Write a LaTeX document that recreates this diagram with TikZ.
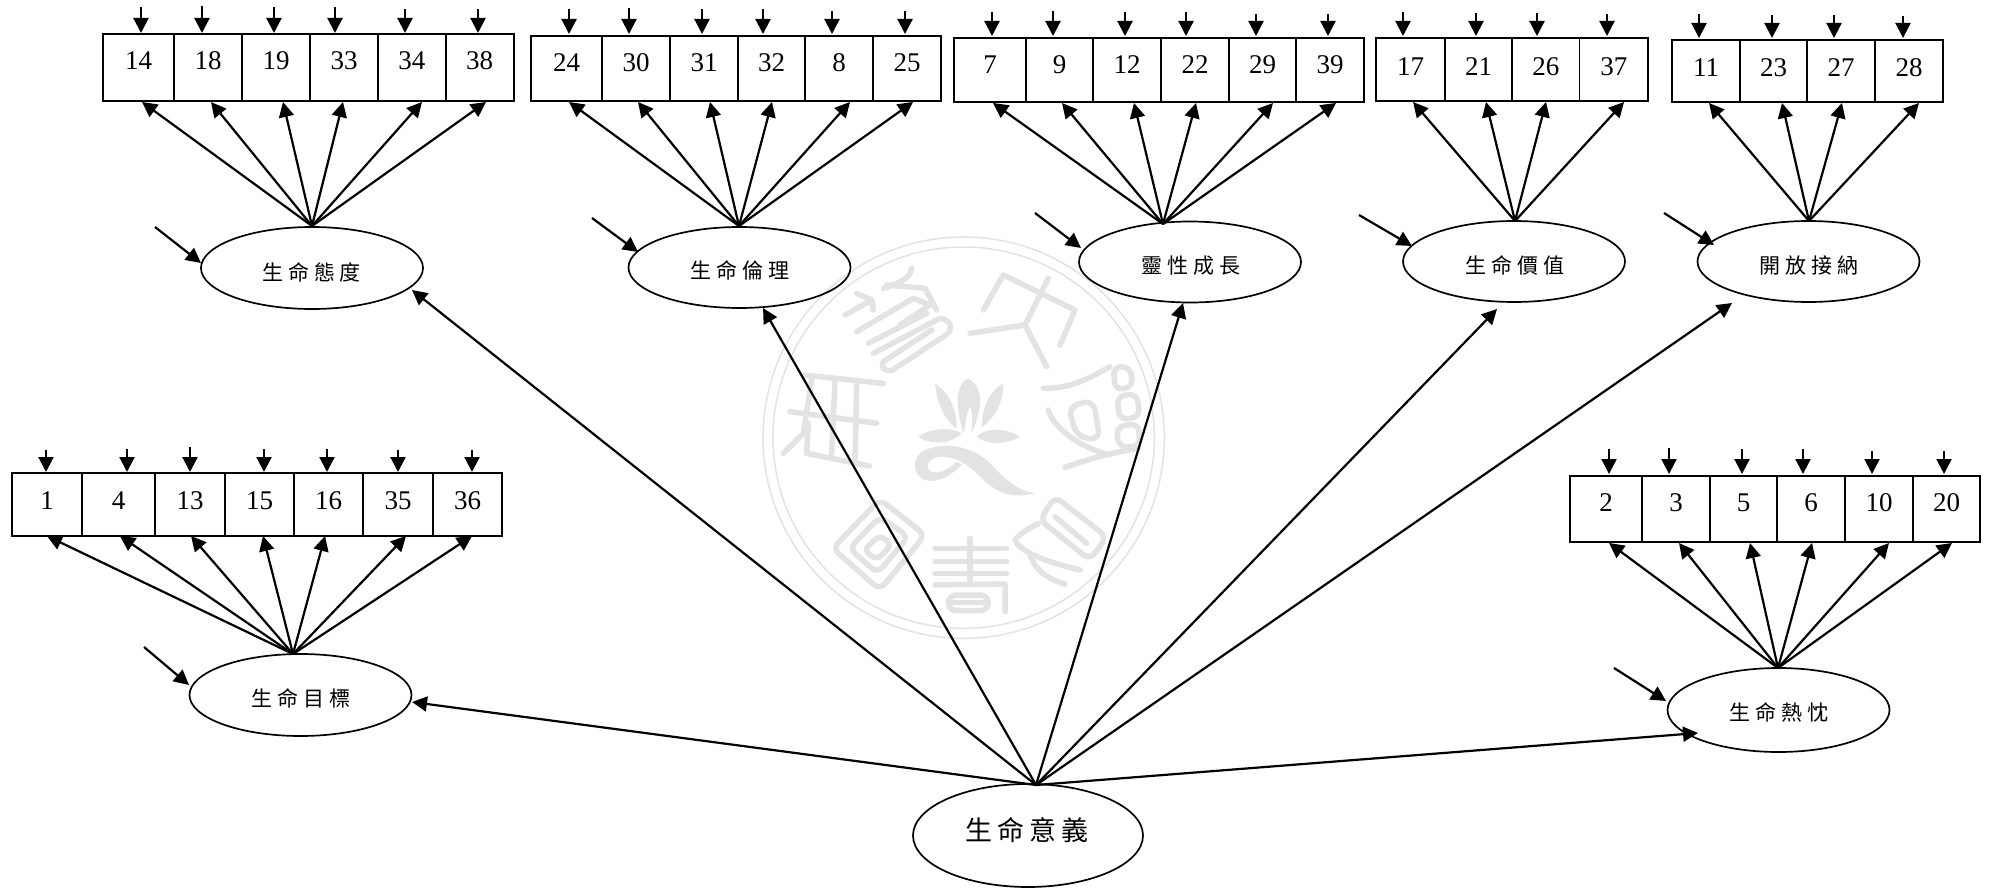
\documentclass[tikz,border=0pt]{standalone}
\usepackage{fontspec}
\usetikzlibrary{arrows.meta,shapes.geometric}
\setmainfont{Liberation Serif}
\newfontfamily\cjk{Noto Sans CJK TC}
\newcommand{\fourch}[5]{{\cjk #1\kern#5 #2\kern#5 #3\kern#5 #4}}
\definecolor{wm}{HTML}{E3E3E3}
\tikzset{
  cell/.style={draw=black,line width=1.8pt,rectangle,inner sep=0pt,outer sep=0pt},
  numtxt/.style={inner sep=0pt,font=\fontsize{27}{27}\selectfont},
  arr/.style={line width=2.2pt,-{Triangle[length=15pt,width=15pt]},shorten >=0pt},
  latent/.style={draw=black,line width=1.7pt,ellipse,inner sep=0pt,outer sep=0pt},
  latxt/.style={inner sep=0pt,font=\fontsize{21}{21}\selectfont},
  seal/.style={draw=wm,line width=5.5pt,line cap=round,line join=round},
  ring/.style={draw=wm,line width=1.5pt},
  petal/.style={fill=wm,draw=none}
}
% name, ytop, ybot, ytext, ytip, ytopend, list i/xa/xb/label/topx/topy/tipx
\newcommand{\grp}[7]{%
  \foreach \i/\xa/\xb/\lab/\tx/\ty/\fx in {#7}{%
    \node[cell,minimum width={(\xb-\xa)*1pt},minimum height={(#3-#2)*1pt}] (#1c\i) at ({(\xa+\xb)/2},{(#2+#3)/2}) {};
    \node[numtxt] (#1t\i) at ({(\xa+\xb)/2},#4) {\lab};
    \coordinate (#1a\i) at (\tx,\ty);
    \coordinate (#1b\i) at (\tx,#6);
    \draw[arr] (#1a\i) -- (#1b\i);
    \coordinate (#1f\i) at (\fx,#5);
    \draw[arr] (#1s) -- (#1f\i);
  }%
}
\begin{document}
\begin{tikzpicture}[x=1pt,y=-1pt]
\useasboundingbox (0,0) rectangle (1993,888);
\fill[white] (0,0) rectangle (1993,888);
% watermark
\begin{scope}[shift={(740,220)},x=0.33333pt,y=-0.33333pt]
  \draw[ring] (671,653) circle [x radius=602,y radius=602];
  \draw[ring] (671,653) circle [x radius=572,y radius=572];
  % top right
  \draw[seal] (730,270) -- (790,165) -- (1005,270) -- (960,375);
  \draw[seal] (925,175) -- (855,315) -- (920,440);
  \draw[seal] (690,340) -- (855,315);
  % top left
  \draw[seal] (515,145) .. controls (510,180) and (470,190) .. (430,205);
  \draw[seal] (315,285) -- (395,240);
  \draw[seal] (350,220) -- (395,240) -- (400,270);
  \draw[seal] (440,195) -- (555,205) -- (590,270);
  \draw[seal] (350,335) -- (520,235) -- (570,255) -- (480,315);
  \draw[seal] (385,370) -- (560,280);
  \draw[seal] (400,400) -- (600,295) .. controls (640,300) and (640,335) .. (610,350) -- (455,452) .. controls (435,455) and (420,440) .. (430,425) -- (575,330);
  % left
  \draw[seal] (150,575) -- (410,610);
  \draw[seal] (190,465) -- (430,490);
  \draw[seal] (215,480) -- (190,640) -- (130,700);
  \draw[seal] (285,485) -- (275,700);
  \draw[seal] (350,495) -- (345,725);
  \draw[seal] (205,610) -- (200,700) -- (388,738);
  % right
  \draw[seal] (910,505) .. controls (990,505) and (1040,480) .. (1110,440);
  \draw[seal] (925,570) .. controls (940,620) and (1010,680) .. (1110,705);
  \draw[seal] (975,742) .. controls (1050,715) and (1130,695) .. (1195,685);
  \draw[seal,rounded corners=10pt] (985,560) -- (1060,540) -- (1080,660) -- (1010,650) -- cycle;
  \draw[seal,rounded corners=8pt] (1120,440) -- (1170,440) -- (1180,500) -- (1125,510) -- cycle;
  \draw[seal,rounded corners=8pt] (1130,530) -- (1190,520) -- (1200,590) -- (1140,600) -- cycle;
  \draw[seal,rounded corners=8pt] (1130,620) -- (1195,610) -- (1200,680) -- (1135,680) -- cycle;
  % bottom right
  \draw[seal,rounded corners=8pt] (945,830) -- (1100,950) -- (1050,1020) -- (900,900) -- cycle;
  \draw[seal] (945,890) -- (1040,970);
  \draw[seal] (825,960) .. controls (850,930) and (880,920) .. (895,910);
  \draw[seal] (830,970) .. controls (860,1000) and (900,1020) .. (1020,1050);
  \draw[seal] (870,1000) .. controls (880,1050) and (930,1080) .. (975,1092);
  % bottom
  \draw[seal] (585,985) -- (800,985);
  \draw[seal] (585,1025) -- (800,1025);
  \draw[seal] (585,1060) -- (800,1060);
  \draw[seal] (585,1095) -- (795,1092) -- (795,1175);
  \draw[seal] (690,955) -- (690,1090);
  \draw[seal,rounded corners=8pt] (625,1125) -- (745,1125) -- (745,1172) -- (625,1172) -- cycle;
  \draw[seal] (625,1148) -- (745,1148);
  % bottom left
  \draw[seal,rounded corners=8pt] (278,985) -- (420,838) -- (555,945) -- (420,1110) -- cycle;
  \draw[seal,rounded corners=8pt] (328,985) -- (420,890) -- (505,950) -- (412,1060) -- cycle;
  \draw[seal,rounded corners=6pt] (372,990) -- (420,945) -- (455,975) -- (410,1020) -- cycle;
  % lotus
  \fill[petal] (685,475) .. controls (640,500) and (650,570) .. (670,640) .. controls (680,600) and (680,570) .. (690,560) .. controls (700,580) and (695,620) .. (695,640) .. controls (720,580) and (740,510) .. (685,475) -- cycle;
  \fill[petal] (585,490) .. controls (590,540) and (610,600) .. (650,625) .. controls (650,570) and (630,520) .. (585,490) -- cycle;
  \fill[petal] (790,490) .. controls (745,515) and (725,570) .. (725,622) .. controls (770,590) and (790,540) .. (790,490) -- cycle;
  \fill[petal] (535,650) .. controls (570,625) and (630,620) .. (665,640) .. controls (630,675) and (570,675) .. (535,650) -- cycle;
  \fill[petal] (710,650) .. controls (740,620) and (800,625) .. (840,650) .. controls (800,675) and (740,675) .. (710,650) -- cycle;
  \fill[petal] (885,820) .. controls (800,840) and (760,810) .. (710,760) .. controls (670,720) and (620,700) .. (580,715) .. controls (555,730) and (555,755) .. (590,758) .. controls (610,755) and (630,745) .. (650,725) -- (665,735) .. controls (630,770) and (590,790) .. (555,780) .. controls (515,765) and (515,710) .. (555,690) .. controls (620,665) and (690,680) .. (740,720) .. controls (780,760) and (820,810) .. (885,820) -- cycle;
\end{scope}
% ellipses
\node[latent,minimum width=222pt,minimum height=82pt] (g1e) at (312,268) {};
\node[latent,minimum width=222pt,minimum height=81pt] (g2e) at (739.5,267.5) {};
\node[latent,minimum width=222pt,minimum height=81pt] (g3e) at (1190,262) {};
\node[latent,minimum width=222pt,minimum height=81pt] (g4e) at (1514,261.5) {};
\node[latent,minimum width=222pt,minimum height=81pt] (g5e) at (1808.5,261.5) {};
\node[latent,minimum width=222pt,minimum height=82pt] (g6e) at (300.5,695) {};
\node[latent,minimum width=222pt,minimum height=84pt] (g7e) at (1778.5,710) {};
\node[latent,minimum width=230pt,minimum height=103pt] (main) at (1028,835.5) {};
% ellipse labels
\node[latxt] (g1l) at (311.5,272) {\fourch{生}{命}{態}{度}{5pt}};
\node[latxt] (g2l) at (740,270) {\fourch{生}{命}{倫}{理}{5pt}};
\node[latxt] (g3l) at (1190.5,266) {\fourch{靈}{性}{成}{長}{5pt}};
\node[latxt] (g4l) at (1515,265) {\fourch{生}{命}{價}{值}{5pt}};
\node[latxt] (g5l) at (1809,265) {\fourch{開}{放}{接}{納}{5pt}};
\node[latxt] (g6l) at (301,698) {\fourch{生}{命}{目}{標}{5pt}};
\node[latxt] (g7l) at (1779,712) {\fourch{生}{命}{熱}{忱}{5pt}};
\node[latxt,font=\fontsize{27}{27}\selectfont] (mainl) at (1027,830) {\fourch{生}{命}{意}{義}{5pt}};
% fan sources
\coordinate (g1s) at (312,226);
\coordinate (g2s) at (739,226);
\coordinate (g3s) at (1163,224);
\coordinate (g4s) at (1515,221);
\coordinate (g5s) at (1809,221);
\coordinate (g6s) at (293,654);
\coordinate (g7s) at (1778,668);
% indicator rows
\grp{g1}{34}{101}{61}{102}{33}{1/103/174.3/14/141/7/142,2/174.3/242/18/202/6/211,3/242/310/19/274/7/283,4/310/378/33/335/7/343,5/378/445.7/34/405/9/422,6/445.7/513.6/38/478/9/486}
\grp{g2}{36}{101}{63}{102}{34}{1/531/602/24/569/9/569,2/602/670/30/629/8/638,3/670/738/31/702/9/710,4/738/805/32/763/9/772,5/805/873/8/832/11/850,6/873/941/25/905/11/913}
\grp{g3}{38}{102}{65}{103}{36}{1/954/1026/7/992/12/993,2/1026/1093/9/1053/11/1062,3/1093/1161/12/1125/12/1134,4/1161/1229/22/1186/12/1196,5/1229/1296/29/1256/14/1273,6/1296/1364/39/1328/14/1336}
\grp{g4}{38}{101}{67}{102}{36}{1/1376/1445/17/1403/12/1413,2/1445/1512/21/1476/13/1486,3/1512/1579.5/26/1537/13/1546,4/1579.5/1648/37/1607/14/1624}
\grp{g5}{40}{102}{68}{103}{38}{1/1672/1740/11/1699/14/1709,2/1740/1807/23/1772/15/1782,3/1807/1875/27/1834/15/1842,4/1875/1943/28/1903/16/1919}
\grp{g6}{473}{536}{501}{536}{472}{1/12/82/1/46/450/47,2/82/155/4/127/449/120,3/155/225/13/190/447/191,4/225/294/15/264/449/263,5/294/363/16/327/449/325,6/363/433/35/398/450/406,7/433/502/36/472/450/472}
\grp{g7}{476}{542}{503}{543}{474}{1/1570/1642/2/1609/449/1609,2/1642/1710/3/1669/448/1679,3/1710/1777/5/1742/449/1750,4/1777/1845/6/1803/449/1812,5/1845/1913/10/1872/451/1889,6/1913/1980/20/1944/451/1952}
% disturbance arrows
\coordinate (g1d) at (155,227);   \coordinate (g1k) at (201,263);
\coordinate (g2d) at (592,218);   \coordinate (g2k) at (638,252);
\coordinate (g3d) at (1035,213);  \coordinate (g3k) at (1081,248);
\coordinate (g4d) at (1359,215);  \coordinate (g4k) at (1412,246);
\coordinate (g5d) at (1664,213);  \coordinate (g5k) at (1714,245);
\coordinate (g6d) at (144,647);   \coordinate (g6k) at (189,685);
\coordinate (g7d) at (1614,668);  \coordinate (g7k) at (1666,701);
\foreach \g in {g1,g2,g3,g4,g5,g6,g7} \draw[arr] (\g d) -- (\g k);
% main arrows
\coordinate (ms) at (1036,785);
\coordinate (m1) at (412,290);
\coordinate (m2) at (763,308);
\coordinate (m3) at (1183,303);
\coordinate (m4) at (1497,309);
\coordinate (m5) at (1732,303);
\coordinate (m6) at (412,702);
\coordinate (m7) at (1698,733);
\foreach \m in {m1,m2,m3,m4,m5,m6,m7} \draw[arr] (ms) -- (\m);
\end{tikzpicture}
\end{document}
